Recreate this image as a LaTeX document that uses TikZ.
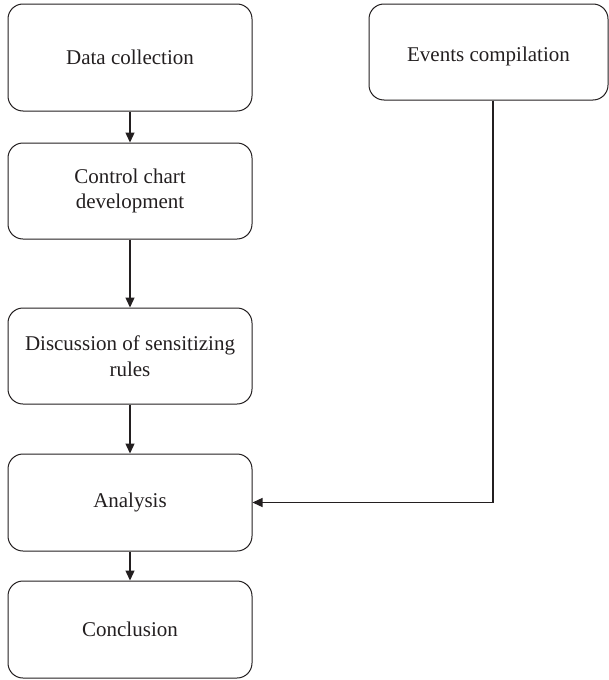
\documentclass[tikz,border=0pt]{standalone}
\usepackage{fontspec}
\setmainfont{Liberation Serif}
\usetikzlibrary{arrows.meta}
\definecolor{ink}{HTML}{231F20}
\tikzset{
  stepbox/.style={draw=ink, line width=1pt, rounded corners=15pt, minimum width=244pt, minimum height=96pt, inner sep=0pt, align=center, text=ink, font=\fontsize{21}{25.7}\selectfont},
  conn/.style={draw=ink, line width=1.3pt, -{Triangle[length=10pt,width=9pt]}}
}
\begin{document}
\begin{tikzpicture}[x=1pt,y=-1pt]
\useasboundingbox (0,0) rectangle (609,680);
\node[stepbox, minimum height=107pt] (data) at (130,57.5) {Data collection};
\node[stepbox] (ctrl) at (130,191) {Control chart\\development};
\node[stepbox] (disc) at (130,356) {Discussion of sensitizing\\rules};
\node[stepbox, minimum height=97pt] (anal) at (130,502.5) {Analysis};
\node[stepbox, minimum height=97pt] (concl) at (130,629.5) {Conclusion};
\node[stepbox, minimum width=239pt] (events) at (488.5,52) {\raisebox{-4pt}[\height][\depth]{Events compilation}};
\coordinate (bend) at (493,502.5);
\draw[conn] (data) -- (ctrl);
\draw[conn] (ctrl) -- (disc);
\draw[conn] (disc) -- (anal);
\draw[conn] (anal) -- (concl);
\draw[conn] (events.south -| bend) -- (bend) -- (anal.east);
\end{tikzpicture}
\end{document}
